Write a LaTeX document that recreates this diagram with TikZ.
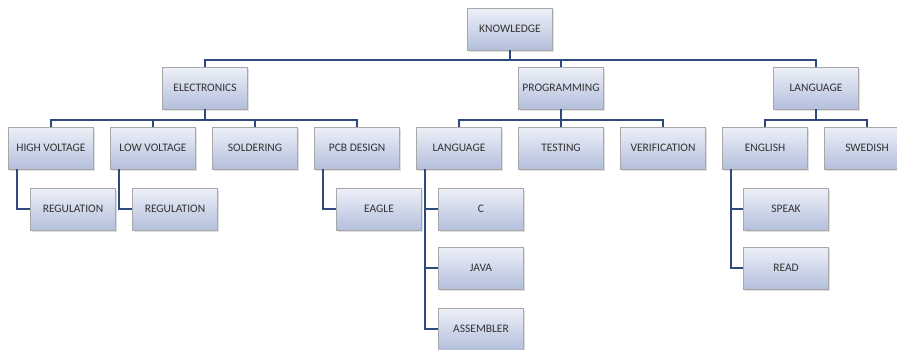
\documentclass[tikz,border=0pt]{standalone}
\usepackage{fontspec}
\setmainfont{Carlito}
\usepackage{tikz}
\usetikzlibrary{
  positioning,
  shadows
}
\definecolor{boxtop}{HTML}{EDF0F8}
\definecolor{boxbot}{HTML}{B4BFDC}
\definecolor{boxline}{HTML}{A8A8A8}
\definecolor{linkblue}{HTML}{2E4A7C}
\tikzset{
  node distance=102pt,
  box/.style={rectangle, draw=boxline, line width=0.6pt,
    top color=boxtop, bottom color=boxbot,
    minimum width=85pt, minimum height=42pt,
    text=black!80, font=\fontsize{11.5}{13}\selectfont,
    drop shadow={shadow xshift=1.5pt, shadow yshift=-1.5pt, opacity=0.25}},
  link/.style={draw=linkblue, line width=1.6pt}
}

\begin{document}
\begin{tikzpicture}[x=1pt, y=-1pt]
    \clip (0,0) rectangle (897,349);
    \fill[white] (0,0) rectangle (897,349);
    % top
    \node[box] (know) at (510,29) {KNOWLEDGE};
    \node[box] (elec) at (205,88) {ELECTRONICS};
    \node[box] (prog) at (561,88) {PROGRAMMING};
    \node[box] (lang) at (816,88) {LANGUAGE};
    % second row
    \node[box] (hv) at (51,148) {HIGH VOLTAGE};
    \node[box, right of=hv] (lv) {LOW VOLTAGE};
    \node[box, right of=lv] (sold) {SOLDERING};
    \node[box, right of=sold] (pcb) {PCB DESIGN};
    \node[box, right of=pcb] (plang) {LANGUAGE};
    \node[box, right of=plang] (test) {TESTING};
    \node[box, right of=test] (verif) {VERIFICATION};
    \node[box, right of=verif] (eng) {ENGLISH};
    \node[box, right of=eng] (swe) {SWEDISH};
    % third row
    \node[box] (reg1) at (73,209) {REGULATION};
    \node[box] (reg2) at (175,209) {REGULATION};
    \node[box] (eagle) at (379,209) {EAGLE};
    \node[box] (c) at (481,209) {C};
    \node[box] (java) at (481,268) {JAVA};
    \node[box] (asm) at (481,329) {ASSEMBLER};
    \node[box] (speak) at (786,209) {SPEAK};
    \node[box] (read) at (786,268) {READ};
    % links
    \draw[link] (know.south) -- ++(0,9.5) -| (elec.north);
    \draw[link] (know.south) -- ++(0,9.5) -| (prog.north);
    \draw[link] (know.south) -- ++(0,9.5) -| (lang.north);
    \foreach \kid in {hv, lv, sold, pcb}
      \draw[link] (elec.south) -- ++(0,10.5) -| (\kid.north);
    \foreach \kid in {plang, test, verif}
      \draw[link] (prog.south) -- ++(0,10.5) -| (\kid.north);
    \foreach \kid in {eng, swe}
      \draw[link] (lang.south) -- ++(0,10.5) -| (\kid.north);
    \draw[link] ([xshift=9pt]hv.south west) |- (reg1.west);
    \draw[link] ([xshift=9pt]lv.south west) |- (reg2.west);
    \draw[link] ([xshift=9pt]pcb.south west) |- (eagle.west);
    \foreach \kid in {c, java, asm}
      \draw[link] ([xshift=9pt]plang.south west) |- (\kid.west);
    \foreach \kid in {speak, read}
      \draw[link] ([xshift=9pt]eng.south west) |- (\kid.west);
\end{tikzpicture}
\end{document}
